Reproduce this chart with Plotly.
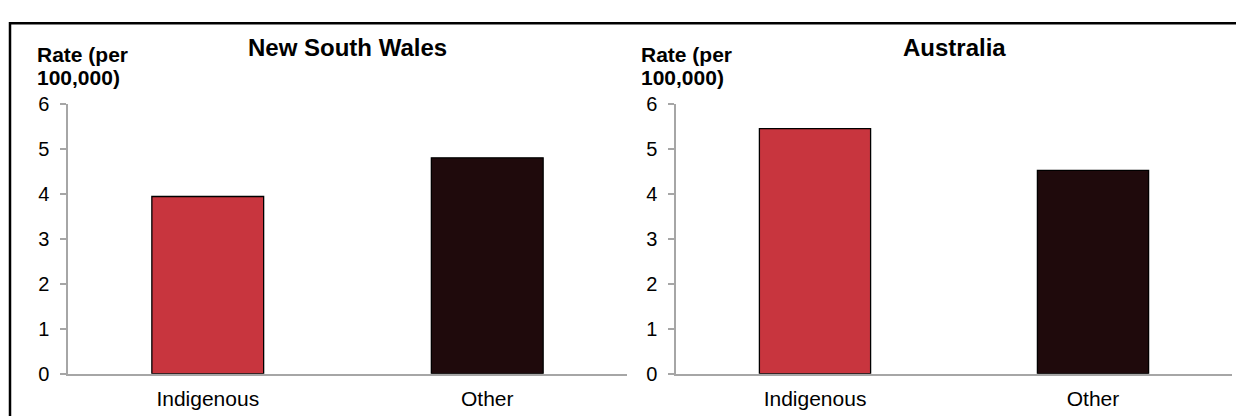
import plotly.graph_objects as go

categories = ["Indigenous", "Other"]
nsw_values = [3.94, 4.8]
aus_values = [5.45, 4.52]
panel_titles = ["New South Wales", "Australia"]
bar_colors = ["#C8353E", "#1F0A0C"]
y_ticks = [0, 1, 2, 3, 4, 5, 6]
y_title_lines = ["Rate (per", "100,000)"]

W, H = 1236, 416
FONT = "Liberation Sans, Arial, sans-serif"

def px_x(p):
    return p / W

def px_y(p):
    return (H - p) / H

fig = go.Figure()
fig.add_trace(go.Bar(x=categories, y=nsw_values, marker=dict(color=bar_colors, line=dict(color="#000000", width=1.3)),
                     width=0.4, xaxis="x", yaxis="y", showlegend=False))
fig.add_trace(go.Bar(x=categories, y=aus_values, marker=dict(color=bar_colors, line=dict(color="#000000", width=1.3)),
                     width=0.4, xaxis="x2", yaxis="y2", showlegend=False))

axis_gray = "#A6A6A6"
xcommon = dict(type="category", range=[-0.5, 1.5], showline=True, linecolor=axis_gray, linewidth=1.5,
               ticks="", showgrid=False, zeroline=False, fixedrange=True,
               tickfont=dict(family=FONT, size=21, color="#000"), ticklabelstandoff=5)
ycommon = dict(range=[0, 6], tickvals=y_ticks, showline=True, linecolor=axis_gray, linewidth=1.5,
               ticks="outside", ticklen=6, tickcolor=axis_gray, tickwidth=1.5, showgrid=False, zeroline=False,
               fixedrange=True, tickfont=dict(family=FONT, size=20, color="#000"), ticklabelstandoff=7)

ydom = [px_y(383), px_y(98)]
fig.update_layout(
    width=W, height=H,
    margin=dict(l=0, r=0, t=0, b=0, pad=0),
    paper_bgcolor="white", plot_bgcolor="white",
    xaxis=dict(domain=[px_x(68), px_x(627)], anchor="y", **xcommon),
    yaxis=dict(domain=ydom, anchor="x", **ycommon),
    xaxis2=dict(domain=[px_x(676), px_x(1232)], anchor="y2", **xcommon),
    yaxis2=dict(domain=ydom, anchor="x2", **ycommon),
)

annotations = []
for title, x0, x1, tx in [(panel_titles[0], 68, 627, 35), (panel_titles[1], 676, 1232, 639)]:
    annotations.append(dict(text="<b>%s</b>" % title, x=px_x((x0 + x1) / 2), y=px_y(22.5), xref="paper", yref="paper",
                            xanchor="center", yanchor="top", showarrow=False,
                            font=dict(family=FONT, size=24, color="#000")))
    for line, top in zip(y_title_lines, [32, 56]):
        annotations.append(dict(text="<b>%s</b>" % line, x=px_x(tx), y=px_y(top), xref="paper", yref="paper",
                                xanchor="left", yanchor="top", align="left", showarrow=False,
                                font=dict(family=FONT, size=21, color="#000")))
fig.update_layout(annotations=annotations)

fig.add_shape(type="rect", xref="paper", yref="paper", x0=px_x(10), x1=1.05, y0=-0.05, y1=px_y(13),
              line=dict(color="#000000", width=2.5), fillcolor="rgba(0,0,0,0)", layer="above")

fig.write_html("out.html", config={"displayModeBar": False},
               post_script="document.body.style.margin='0';document.body.style.padding='0';")
